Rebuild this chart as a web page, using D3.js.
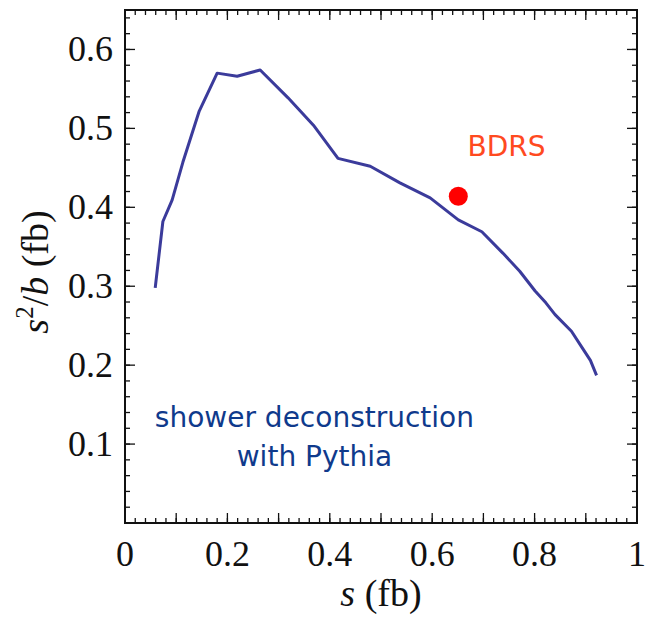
<!DOCTYPE html>
<html>
<head>
<meta charset="utf-8">
<script src="https://cdn.jsdelivr.net/npm/d3@7"></script>
<style>
  body { margin: 0; background: #fff; }
  svg { display: block; }
  .tick-label { font-family: 'Liberation Serif', 'DejaVu Serif', serif; font-size: 36px; fill: #111; }
  .title { font-family: 'Liberation Serif', 'DejaVu Serif', serif; font-size: 38px; fill: #111; }
  .note { font-family: 'Comic Sans MS', 'DejaVu Sans', sans-serif; }
</style>
</head>
<body>
<svg width="648" height="618"></svg>
<script>
// s (fb) and s^2/b (fb)
const sValues = [0.059, 0.074, 0.092, 0.113, 0.145, 0.180, 0.219, 0.264, 0.318, 0.368, 0.416, 0.479, 0.537, 0.596, 0.651, 0.697, 0.738, 0.771, 0.801, 0.822, 0.840, 0.872, 0.895, 0.909, 0.921]
const s2bValues = [0.298, 0.382, 0.409, 0.457, 0.522, 0.570, 0.566, 0.574, 0.539, 0.504, 0.462, 0.452, 0.431, 0.412, 0.384, 0.369, 0.342, 0.319, 0.294, 0.279, 0.264, 0.243, 0.220, 0.206, 0.187]
const bdrsPoint = [0.651, 0.414]
const xTickLabels = [0, 0.2, 0.4, 0.6, 0.8, 1]
const yTickLabels = [0.1, 0.2, 0.3, 0.4, 0.5, 0.6]

const margin = {top: 10, right: 11, bottom: 95, left: 125}
const width = 648 - margin.left - margin.right
const height = 618 - margin.top - margin.bottom

const svg = d3.select('svg')
const g = svg.append('g').attr('transform', `translate(${margin.left},${margin.top})`)

const x = d3.scaleLinear().domain([0, 1]).range([0, width])
const y = d3.scaleLinear().domain([0, 0.65]).range([height, 0])

// ticks on all four sides, pointing inwards
const xMinor = d3.range(0, 1.0001, 0.02)
const xMajor = d3.range(0, 1.0001, 0.1)
const yMinor = d3.range(0, 0.6501, 0.02)
const yMajor = d3.range(0, 0.6501, 0.1)

function xTickSet (vals, len, cls) {
  g.selectAll(`.xb-${cls}`).data(vals).enter().append('line')
    .attr('x1', d => x(d)).attr('x2', d => x(d))
    .attr('y1', height).attr('y2', height - len)
  g.selectAll(`.xt-${cls}`).data(vals).enter().append('line')
    .attr('x1', d => x(d)).attr('x2', d => x(d))
    .attr('y1', 0).attr('y2', len)
}
function yTickSet (vals, len, cls) {
  g.selectAll(`.yl-${cls}`).data(vals).enter().append('line')
    .attr('y1', d => y(d)).attr('y2', d => y(d))
    .attr('x1', 0).attr('x2', len)
  g.selectAll(`.yr-${cls}`).data(vals).enter().append('line')
    .attr('y1', d => y(d)).attr('y2', d => y(d))
    .attr('x1', width).attr('x2', width - len)
}
xTickSet(xMinor, 5, 'minor')
xTickSet(xMajor, 10, 'major')
yTickSet(yMinor, 5, 'minor')
yTickSet(yMajor, 10, 'major')
g.selectAll('line').attr('stroke', '#111').attr('stroke-width', 1.3)

g.append('rect')
  .attr('width', width).attr('height', height)
  .attr('fill', 'none').attr('stroke', '#111').attr('stroke-width', 2)

// tick labels
g.selectAll('.xlab').data(xTickLabels).enter().append('text')
  .attr('class', 'tick-label')
  .attr('x', d => x(d)).attr('y', height + 43)
  .attr('text-anchor', 'middle')
  .text(d => d3.format('~g')(d))

g.selectAll('.ylab').data(yTickLabels).enter().append('text')
  .attr('class', 'tick-label')
  .attr('x', -12).attr('y', d => y(d) + 12)
  .attr('text-anchor', 'end')
  .text(d => d3.format('.1f')(d))

// axis titles
const xTitle = svg.append('text')
  .attr('class', 'title')
  .attr('x', margin.left + width / 2).attr('y', 606)
  .attr('text-anchor', 'middle')
xTitle.append('tspan').attr('font-style', 'italic').text('s')
xTitle.append('tspan').text(' (fb)')

const yTitle = svg.append('text')
  .attr('class', 'title')
  .attr('transform', `translate(48, 272) rotate(-90)`)
  .attr('text-anchor', 'middle')
yTitle.append('tspan').attr('font-style', 'italic').text('s')
yTitle.append('tspan').attr('font-size', 25).attr('dy', -15).text('2')
yTitle.append('tspan').attr('dy', 15).text('/')
yTitle.append('tspan').attr('font-style', 'italic').text('b')
yTitle.append('tspan').text(' (fb)')

// curve
const line = d3.line()
  .x((d, i) => x(sValues[i]))
  .y(d => y(d))
g.append('path')
  .datum(s2bValues)
  .attr('d', line)
  .attr('fill', 'none')
  .attr('stroke', '#3b3b9b')
  .attr('stroke-width', 3)
  .attr('stroke-linejoin', 'round')

// BDRS point
g.append('circle')
  .attr('cx', x(bdrsPoint[0])).attr('cy', y(bdrsPoint[1]))
  .attr('r', 9.5)
  .attr('fill', '#ff0000')

g.append('text')
  .attr('class', 'note')
  .attr('x', x(0.745)).attr('y', y(0.465))
  .attr('text-anchor', 'middle')
  .attr('font-size', 28)
  .attr('fill', '#ff4a1f')
  .text('BDRS')

const note = g.append('text')
  .attr('class', 'note')
  .attr('font-size', 28)
  .attr('fill', '#0f3a8c')
  .attr('text-anchor', 'middle')
note.append('tspan').attr('x', x(0.37)).attr('y', y(0.122)).text('shower deconstruction')
note.append('tspan').attr('x', x(0.37)).attr('y', y(0.072)).text('with Pythia')
</script>
</body>
</html>
